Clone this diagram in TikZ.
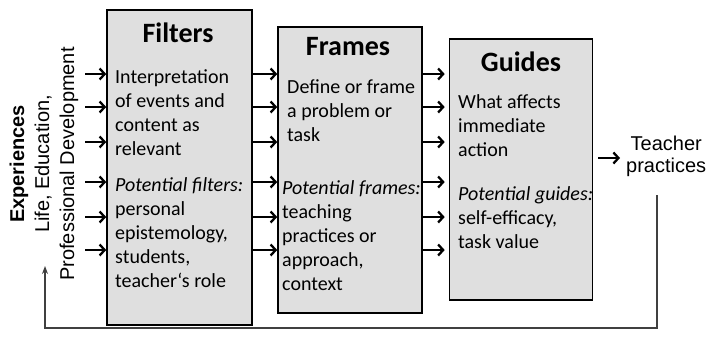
\documentclass[tikz,border=0pt]{standalone}
\usepackage{fontspec}
\setmainfont{Carlito}
\newfontfamily\arialf{Liberation Sans}
\usetikzlibrary{arrows.meta,calc}
\definecolor{boxfill}{HTML}{DFDFDF}
\definecolor{fbcol}{HTML}{404040}
\tikzset{
  stagebox/.style={draw=black, line width=1.6pt, fill=boxfill, inner sep=0pt},
  boxtitle/.style={anchor=base, font=\fontsize{28}{32}\selectfont\bfseries, inner sep=0pt},
  boxbody/.style={anchor=base west, align=left, font=\fontsize{20}{24}\selectfont, inner sep=0pt},
  arr/.style={line width=2.3pt, -{Straight Barb[length=5pt,width=11pt]}},
  fbline/.style={draw=fbcol, line width=1.3pt, -{Stealth[length=8pt,width=6pt]}},
  sidetext/.style={font=\arialf\fontsize{20}{25}\selectfont, align=center, inner sep=0pt},
}
\begin{document}
\begin{tikzpicture}[x=1pt,y=-1pt]
\useasboundingbox (0,0) rectangle (707,338);
% boxes
\node[stagebox, minimum width=145pt, minimum height=315pt] (filters) at (179.5,167.5) {};
\node[stagebox, minimum width=144pt, minimum height=286pt] (frames) at (350,170) {};
\node[stagebox, minimum width=143pt, minimum height=261pt] (guides) at (521,169.5) {};
% titles
\node[boxtitle] (t1) at (178,42) {Filters};
\node[boxtitle] (t2) at (348,55) {Frames};
\node[boxtitle] (t3) at (521,71) {Guides};
% bodies (anchor = baseline of last line)
\node[boxbody] (b1a) at (115,155) {Interpretation\\of events and\\content as\\relevant};
\node[boxbody] (b1b) at (115,287) {\textit{Potential filters:}\\personal\\epistemology,\\students,\\teacher‘s role};
\node[boxbody] (b2a) at (287,141) {Define or frame\\a problem or\\task};
\node[boxbody] (b2b) at (282,290) {\textit{Potential frames:}\\teaching\\practices or\\approach,\\context};
\node[boxbody] (b3a) at (458,156) {What affects\\immediate\\action};
\node[boxbody] (b3b) at (458,248) {\textit{Potential guides:}\\self-efficacy,\\task value};
% side text
\node[sidetext, rotate=90] (exp) at (44,164) {\textbf{Experiences}\\Life, Education,\\Professional Development};
% teacher practices
\node[font=\arialf\fontsize{20}{22}\selectfont, align=center, inner sep=0pt, anchor=west] (tp) at (626,156) {Teacher\\practices};
% arrows
\foreach \yy in {74,107,142,182,217,250}{
  \coordinate (src) at (85,\yy);
  \draw[arr] (src) -- (src -| filters.west);
  \draw[arr] (filters.east |- src) -- (frames.west |- src);
  \draw[arr] (frames.east |- src) -- ([xshift=-4pt]guides.west |- src);
}
\coordinate (tpin) at ([xshift=5pt]guides.east |- 0,158);
\draw[arr] (tpin) -- ([xshift=-6pt]tp.west |- tpin);
% feedback
\coordinate (fbstart) at (657,195);
\coordinate (fbend) at (45,266);
\draw[fbline] (fbstart) -- (657,328) -- (45,328) -- (fbend);
\end{tikzpicture}
\end{document}
